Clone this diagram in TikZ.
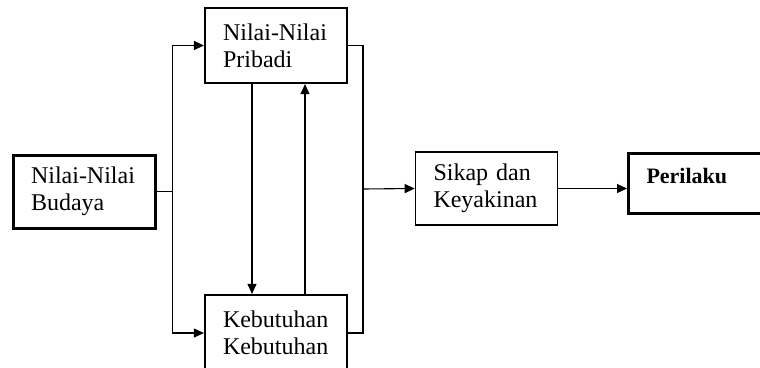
\documentclass[tikz,border=0pt]{standalone}
\usepackage{fontspec}
\setmainfont{Liberation Serif}
\usetikzlibrary{positioning,arrows.meta,calc}

\begin{document}
\begin{tikzpicture}[
  x=1pt, y=-1pt,
  >={Triangle[length=10pt,width=9pt]},
  box/.style={draw,line width=2.2pt,align=left,inner xsep=18pt,text width=106pt,
    minimum height=75pt,font=\fontsize{24}{27}\selectfont},
  heavy/.style={box,line width=3pt},
  light/.style={box,line width=1.6pt},
  link/.style={line width=1.1pt}
]
\clip (0,0) rectangle (760,367);
\fill[white] (0,0) rectangle (760,367);
% boxes
\node[heavy, minimum height=73pt] (budaya) at (84,191.5) {Nilai-Nilai\\Budaya};
\node[box] (pribadi) at (276,45.5) {Nilai-Nilai\\Pribadi};
\node[box, minimum height=76pt] (butuh) at (276,333) {Kebutuhan\\Kebutuhan};
\node[light, minimum height=73pt] (sikap) at (486.5,188.5) {Sikap dan\\Keyakinan};
\node[heavy, anchor=north west, minimum height=0pt, inner ysep=15pt,
  text height=15pt, text depth=15pt, font=\fontsize{22}{27}\selectfont\bfseries]
  (perilaku) at (627,152) {Perilaku};
% left fork
\coordinate (split) at ($(budaya.east)+(16,0)$);
\draw[link] (budaya.east) -- (split);
\draw[link,->] (split) |- (pribadi.west);
\draw[link,->] (split) |- (butuh.west);
% between the two middle boxes
\draw[link,->] ([xshift=-24pt]pribadi.south) -- ([xshift=-24pt]butuh.north);
\draw[link,->] ([xshift=29pt]butuh.north) -- ([xshift=29pt]pribadi.south);
% right join
\coordinate (join) at (363,189);
\draw[link] (pribadi.east) -| (join) |- (butuh.east);
\draw[link,->] (join) -- (sikap.west);
\draw[link,->] (sikap.east) -- (sikap.east -| perilaku.west);
\end{tikzpicture}
\end{document}
